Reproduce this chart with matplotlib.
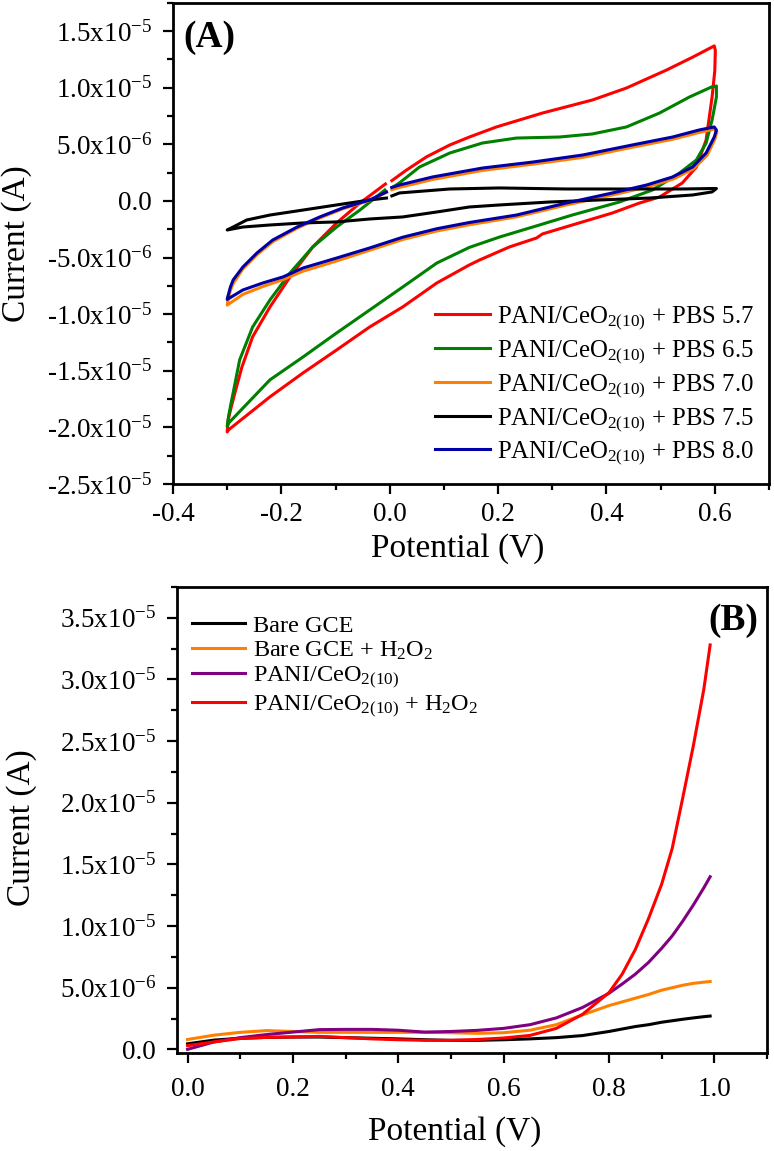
import matplotlib
matplotlib.use("Agg")
import matplotlib.pyplot as plt
from matplotlib.ticker import MultipleLocator, FuncFormatter

plt.rcParams['font.family'] = 'Liberation Serif'
plt.rcParams['mathtext.fontset'] = 'custom'
plt.rcParams['mathtext.rm'] = 'Liberation Serif'
plt.rcParams['mathtext.it'] = 'Liberation Serif:italic'
plt.rcParams['mathtext.bf'] = 'Liberation Serif:bold'

# ---- Panel A: CV curves at different pH (current in uA) ----
red_x = [0.004, 0.03, 0.068, 0.111, 0.147, 0.197, 0.282, 0.374, 0.437, 0.511, 0.559, 0.599,
         0.601, 0.600, 0.595, 0.584, 0.566, 0.540, 0.498, 0.461, 0.411, 0.337, 0.282, 0.271,
         0.221, 0.166, 0.147, 0.087, 0.024, -0.037, -0.098, -0.160, -0.221, -0.297, -0.300,
         -0.298, -0.293, -0.286, -0.273, -0.253, -0.221, -0.184, -0.142, -0.098, -0.055, -0.008]
red_y = [1.8, 2.7, 3.9, 4.95, 5.65, 6.54, 7.77, 8.92, 9.98, 11.57, 12.7, 13.7,
         13.3, 11.5, 9.18, 5.39, 3.0, 1.59, 0.35, -0.18, -1.06, -2.12, -2.91, -3.27,
         -4.06, -5.21, -5.65, -7.24, -9.36, -11.13, -13.16, -15.19, -17.3, -20.2, -20.4,
         -19.3, -18.3, -17.0, -14.7, -12.0, -9.36, -6.71, -4.06, -1.94, -0.18, 1.5]

green_x = [0.004, 0.018, 0.055, 0.111, 0.171, 0.234, 0.313, 0.374, 0.437, 0.498, 0.553, 0.594,
           0.603, 0.603, 0.595, 0.584, 0.566, 0.535, 0.485, 0.424, 0.337, 0.264, 0.203, 0.147,
           0.087, 0.024, -0.037, -0.098, -0.160, -0.221, -0.297, -0.300, -0.297, -0.293, -0.289,
           -0.277, -0.253, -0.221, -0.184, -0.142, -0.098, -0.055, -0.009]
green_y = [1.15, 1.6, 3.0, 4.24, 5.12, 5.56, 5.65, 5.92, 6.54, 7.77, 9.18, 10.07,
           10.16, 9.18, 7.15, 5.12, 3.62, 2.47, 0.97, -0.09, -1.24, -2.30, -3.18, -4.1,
           -5.48, -7.6, -9.63, -11.66, -13.78, -15.8, -19.6, -19.9, -18.9, -17.9, -16.96,
           -14.04, -11.13, -8.74, -6.36, -4.06, -2.30, -0.80, 0.97]

orange_x = [0.004, 0.018, 0.079, 0.171, 0.264, 0.356, 0.448, 0.522, 0.571, 0.599, 0.604, 0.600,
            0.586, 0.561, 0.524, 0.476, 0.413, 0.326, 0.234, 0.147, 0.087, 0.024, -0.037,
            -0.098, -0.160, -0.197, -0.234, -0.271, -0.300, -0.299, -0.294, -0.289, -0.271, -0.245,
            -0.216, -0.171, -0.129, -0.087, -0.037, -0.006]
orange_y = [1.0, 1.2, 1.9, 2.7, 3.25, 3.85, 4.75, 5.45, 6.05, 6.35, 6.1, 5.45,
            4.05, 2.85, 1.95, 1.25, 0.55, -0.35, -1.4, -2.1, -2.65, -3.4, -4.35,
            -5.3, -6.2, -6.95, -7.55, -8.25, -9.2, -8.9, -7.9, -7.3, -6.0, -4.75,
            -3.6, -2.4, -1.5, -0.7, 0.05, 0.75]

black_x = [0.004, 0.018, 0.111, 0.203, 0.326, 0.448, 0.540, 0.595, 0.603, 0.595, 0.559, 0.479,
           0.387, 0.295, 0.203, 0.147, 0.087, 0.024, -0.037, -0.098, -0.160, -0.221, -0.271,
           -0.300, -0.289, -0.264, -0.221, -0.160, -0.098, -0.037, -0.006]
black_y = [0.45, 0.71, 1.06, 1.15, 1.06, 1.06, 1.06, 1.1, 1.1, 0.8, 0.53, 0.26,
           0.09, -0.09, -0.35, -0.53, -0.97, -1.41, -1.59, -1.85, -1.94, -2.12, -2.30,
           -2.56, -2.30, -1.68, -1.24, -0.80, -0.35, 0.09, 0.26]

blue_x = [0.004, 0.018, 0.079, 0.171, 0.264, 0.356, 0.448, 0.522, 0.571, 0.599, 0.603, 0.599,
          0.584, 0.559, 0.522, 0.474, 0.411, 0.326, 0.234, 0.147, 0.087, 0.024, -0.037,
          -0.098, -0.160, -0.197, -0.234, -0.271, -0.300, -0.299, -0.294, -0.289, -0.271, -0.245,
          -0.216, -0.171, -0.129, -0.087, -0.037, -0.006]
blue_y = [1.2, 1.41, 2.12, 2.91, 3.44, 4.06, 4.95, 5.65, 6.27, 6.54, 6.27, 5.65,
          4.24, 3.0, 2.12, 1.41, 0.71, -0.18, -1.24, -1.9, -2.45, -3.2, -4.15,
          -5.04, -5.92, -6.71, -7.24, -7.86, -8.7, -8.48, -7.6, -6.98, -5.83, -4.59,
          -3.45, -2.30, -1.41, -0.62, 0.09, 0.8]

cv_labels = ['PANI/CeO$_{\\mathrm{2(10)}}$ + PBS 5.7', 'PANI/CeO$_{\\mathrm{2(10)}}$ + PBS 6.5',
             'PANI/CeO$_{\\mathrm{2(10)}}$ + PBS 7.0', 'PANI/CeO$_{\\mathrm{2(10)}}$ + PBS 7.5',
             'PANI/CeO$_{\\mathrm{2(10)}}$ + PBS 8.0']
cv_colors = ['#ff0000', '#008000', '#ff8000', '#000000', '#0000a8']

# ---- Panel B: LSV curves (current in uA) ----
lsv_x = [0.0, 0.05, 0.1, 0.15, 0.2, 0.25, 0.3, 0.35, 0.4, 0.45, 0.5, 0.55, 0.6, 0.65, 0.7,
         0.75, 0.8, 0.825, 0.85, 0.875, 0.9, 0.92, 0.94, 0.96, 0.98, 0.992]
bare_y = [0.45, 0.75, 0.9, 0.97, 1.0, 1.0, 0.95, 0.9, 0.85, 0.78, 0.73, 0.73, 0.78, 0.85, 0.95,
          1.12, 1.45, 1.65, 1.85, 2.0, 2.2, 2.32, 2.44, 2.55, 2.65, 2.7]
bare_h2o2_y = [0.8, 1.15, 1.38, 1.52, 1.45, 1.38, 1.38, 1.38, 1.38, 1.38, 1.35, 1.3, 1.35, 1.55, 2.0,
               2.8, 3.55, 3.85, 4.15, 4.45, 4.8, 5.0, 5.2, 5.35, 5.45, 5.5]
pani_y = [0.0, 0.6, 0.95, 1.2, 1.4, 1.6, 1.62, 1.62, 1.55, 1.4, 1.45, 1.54, 1.7, 2.0, 2.55,
          3.4, 4.55, 5.3, 6.1, 7.05, 8.2, 9.2, 10.4, 11.7, 13.1, 14.0]
pani_h2o2_y = [0.3, 0.6, 0.88, 0.97, 1.0, 1.05, 0.95, 0.85, 0.78, 0.73, 0.73, 0.8, 0.92, 1.13, 1.7,
               2.85, 4.6, 6.1, 8.1, 10.6, 13.4, 16.3, 20.4, 24.6, 29.2, 32.8]
lsv_labels = ['Bare GCE', 'Bare GCE + H$_\\mathrm{2}$O$_\\mathrm{2}$', 'PANI/CeO$_{\\mathrm{2(10)}}$',
              'PANI/CeO$_{\\mathrm{2(10)}}$ + H$_\\mathrm{2}$O$_\\mathrm{2}$']
lsv_colors = ['#000000', '#ff8000', '#800080', '#ff0000']


def sci_fmt(v, pos):
    if abs(v) < 1e-12:
        return '0.0'
    exp = 0
    m = v
    while abs(m) < 1:
        m *= 10
        exp -= 1
    return '%.1fx10$^{\\mathrm{%d}}$' % (m, exp)


def style_axes(ax, xpad):
    for s in ax.spines.values():
        s.set_linewidth(2.0)
    ax.tick_params(which='both', direction='out', width=1.6, labelsize=19.5,
                   top=False, right=False)
    ax.tick_params(which='major', length=7)
    ax.tick_params(which='minor', length=4)
    ax.tick_params(axis='y', pad=8)
    ax.tick_params(axis='x', pad=xpad)
    ax.yaxis.set_major_formatter(FuncFormatter(sci_fmt))
    ax.xaxis.set_major_formatter(FuncFormatter(lambda v, p: '%.1f' % v))
    ax.xaxis.set_major_locator(MultipleLocator(0.2))
    ax.xaxis.set_minor_locator(MultipleLocator(0.1))
    ax.yaxis.set_major_locator(MultipleLocator(5e-6))
    ax.yaxis.set_minor_locator(MultipleLocator(2.5e-6))


fig = plt.figure(figsize=(7.74, 11.51), dpi=100)

# Panel A
axA = fig.add_axes([0.2235, 0.5795, 0.770, 0.418])
cv_series = [(red_x, red_y), (green_x, green_y), (orange_x, orange_y),
             (black_x, black_y), (blue_x, blue_y)]
for (xs, ys), c, lab in zip(cv_series, cv_colors, cv_labels):
    axA.plot(xs, [v * 1e-6 for v in ys], color=c, lw=2.2, label=lab)
axA.set_xlim(-0.4, 0.7)
axA.set_ylim(-2.5e-5, 1.75e-5)
style_axes(axA, 6)
axA.set_xlabel('Potential (V)', fontsize=24)
axA.set_ylabel('Current (A)', fontsize=24)
axA.xaxis.set_label_coords(0.477, -0.102)
axA.yaxis.set_label_coords(-0.237, 0.5)
axA.text(0.017, 0.965, '(A)', transform=axA.transAxes, fontsize=27,
         fontweight='bold', va='top', ha='left')
axA.legend(loc='upper left', bbox_to_anchor=(0.44, 0.373), frameon=False, fontsize=17.8,
           borderpad=0, handlelength=2.2, handletextpad=0.3, labelspacing=0.25,
           borderaxespad=0)

# Panel B
axB = fig.add_axes([0.2287, 0.0851, 0.7623, 0.4049])
lsv_series = [bare_y, bare_h2o2_y, pani_y, pani_h2o2_y]
for ys, c, lab in zip(lsv_series, lsv_colors, lsv_labels):
    axB.plot(lsv_x, [v * 1e-6 for v in ys], color=c, lw=2.2, label=lab)
axB.set_xlim(-0.02, 1.1)
axB.set_ylim(-3e-7, 3.75e-5)
style_axes(axB, 10)
axB.set_xlabel('Potential (V)', fontsize=24)
axB.set_ylabel('Current (A)', fontsize=24)
axB.xaxis.set_label_coords(0.471, -0.136)
axB.yaxis.set_label_coords(-0.237, 0.483)
axB.text(0.985, 0.965, '(B)', transform=axB.transAxes, fontsize=27,
         fontweight='bold', va='top', ha='right')
axB.legend(loc='upper left', bbox_to_anchor=(0.025, 0.941), frameon=False, fontsize=17.5,
           borderpad=0, handlelength=2.2, handletextpad=0.3, labelspacing=0.12,
           borderaxespad=0)

fig.savefig('out.png', dpi=100)
